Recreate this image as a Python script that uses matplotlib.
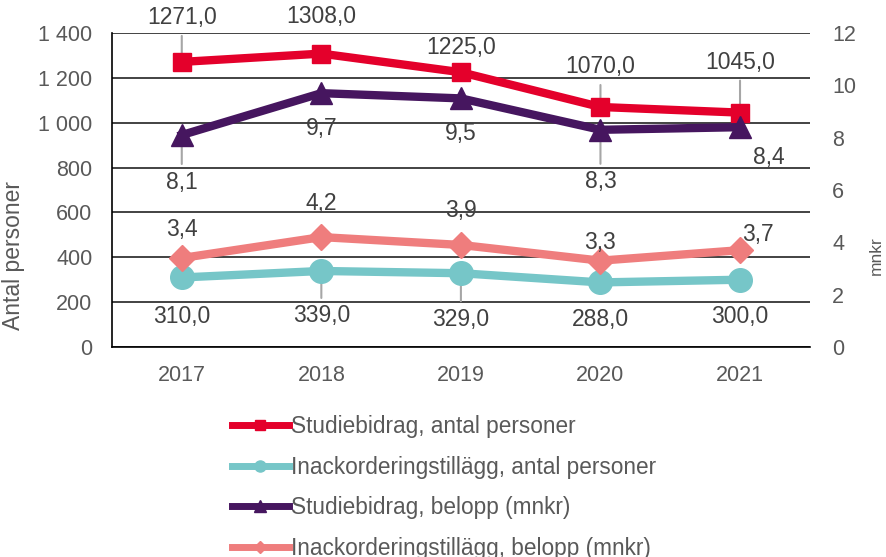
import matplotlib.pyplot as plt
from matplotlib.lines import Line2D
from matplotlib.ticker import FuncFormatter

plt.rcParams['font.family'] = ['Liberation Sans', 'DejaVu Sans']

years = ["2017", "2018", "2019", "2020", "2021"]
studie_antal = [1271, 1308, 1225, 1070, 1045]
inack_antal = [310, 339, 329, 288, 300]
studie_belopp = [8.1, 9.7, 9.5, 8.3, 8.4]
inack_belopp = [3.4, 4.2, 3.9, 3.3, 3.7]

red = "#E4002B"
teal = "#76C6C8"
purple = "#46165F"
pink = "#EF7D7D"
txt = "#404040"
tick = "#595959"

fig = plt.figure(figsize=(8.86, 5.57), dpi=100)
ax = fig.add_axes([0.1264, 0.377, 0.7876, 0.5638])
ax2 = ax.twinx()
x = list(range(len(years)))

lw = 6
ax.plot(x, studie_antal, color=red, lw=lw, marker="s", ms=13, zorder=3)
ax.plot(x, inack_antal, color=teal, lw=lw, marker="o", ms=17, zorder=3)
ax2.plot(x, studie_belopp, color=purple, lw=lw, marker="^", ms=16, zorder=3)
ax2.plot(x, inack_belopp, color=pink, lw=lw, marker="D", ms=13, zorder=3)

ax.set_xlim(-0.5, 4.5)
ax.set_ylim(0, 1400)
ax2.set_ylim(0, 12)
ax.set_yticks(range(0, 1401, 200))
ax2.set_yticks(range(0, 13, 2))
ax.yaxis.set_major_formatter(FuncFormatter(lambda v, p: f"{int(v):,}".replace(",", " ")))
ax.set_xticks(x)
ax.set_xticklabels(years)
ax.grid(axis="y", color="#222222", lw=1.2)
ax.set_axisbelow(True)

for a in (ax, ax2):
    a.tick_params(length=0, labelsize=15.5, colors=tick)
    for s in ["top", "right"]:
        a.spines[s].set_visible(False)
ax2.spines["left"].set_visible(False)
ax2.spines["bottom"].set_visible(False)
ax.spines["left"].set_color("black")
ax.spines["bottom"].set_color("black")
ax.spines["left"].set_linewidth(1.2)
ax.spines["bottom"].set_linewidth(1.2)
ax.tick_params(axis="x", pad=13)
ax.tick_params(axis="y", pad=14)
ax2.tick_params(axis="y", pad=16)

ax.set_ylabel("Antal personer", fontsize=16.5, color=tick)
ax.yaxis.set_label_coords(-0.125, 0.29)
ax2.set_ylabel("mnkr", fontsize=12.5, color=tick)
ax2.yaxis.set_label_coords(1.084, 0.29)


def fmt(v):
    return f"{v:.1f}".replace(".", ",")


# label offsets in pixels (dx, dy) and whether a leader line is drawn
red_off = [(0, 44), (0, 37), (0, 25), (0, 40), (0, 50)]
red_lead = [True, False, False, True, True]
teal_off = [(0, -39), (0, -45), (0, -46), (0, -37), (0, -37)]
teal_lead = [False, True, True, False, False]
purple_off = [(0, -47), (0, -35), (0, -35), (0, -52), (29, -30)]
purple_lead = [True, False, False, True, False]
pink_off = [(0, 29), (0, 34), (0, 34), (0, 18), (18, 16)]
pink_lead = [True, False, False, False, False]

series = [
    (ax, studie_antal, red_off, red_lead),
    (ax, inack_antal, teal_off, teal_lead),
    (ax2, studie_belopp, purple_off, purple_lead),
    (ax2, inack_belopp, pink_off, pink_lead),
]
for a, vals, offs, leads in series:
    for i, v in enumerate(vals):
        dx, dy = offs[i]
        a.annotate(fmt(v), (i, v), xytext=(dx, dy), textcoords="offset pixels",
                   ha="center", va="center", fontsize=16.5, color=txt, zorder=5)
        if leads[i]:
            sign = 1 if dy > 0 else -1
            a.annotate("", (i, v), xytext=(0, dy - sign * 18), textcoords="offset pixels",
                       arrowprops=dict(arrowstyle="-", color="#A6A6A6", lw=1.5,
                                       shrinkA=0, shrinkB=0), zorder=2)

handles = [
    Line2D([], [], color=red, lw=5, marker="s", ms=7),
    Line2D([], [], color=teal, lw=5, marker="o", ms=8),
    Line2D([], [], color=purple, lw=5, marker="^", ms=8),
    Line2D([], [], color=pink, lw=5, marker="D", ms=6),
]
labels = [
    "Studiebidrag, antal personer",
    "Inackorderingstillägg, antal personer",
    "Studiebidrag, belopp (mnkr)",
    "Inackorderingstillägg, belopp (mnkr)",
]
fig.legend(handles, labels, loc="upper left", bbox_to_anchor=(0.262, 0.255),
           frameon=False, fontsize=16.3, labelcolor=tick, handlelength=2.5,
           handletextpad=0.12, labelspacing=0.78, borderaxespad=0, borderpad=0)

fig.savefig("out.png", dpi=100)
